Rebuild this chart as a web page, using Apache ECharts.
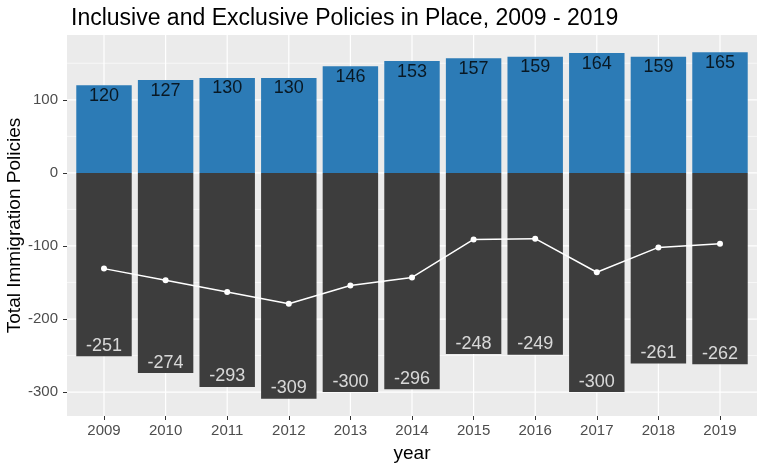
<!DOCTYPE html>
<html>
<head>
<meta charset="utf-8">
<script src="https://cdn.jsdelivr.net/npm/echarts@6/dist/echarts.min.js"></script>
<style>html,body{margin:0;padding:0;background:#fff}#c{width:761px;height:468px}</style>
</head>
<body>
<div id="c"></div>
<script>
const years = ['2009','2010','2011','2012','2013','2014','2015','2016','2017','2018','2019'];
const inclusive = [120,127,130,130,146,153,157,159,164,159,165];
const exclusive = [-251,-274,-293,-309,-300,-296,-248,-249,-300,-261,-262];
const net = [-131,-147,-163,-179,-154,-143,-91,-90,-136,-102,-97];
const majorTicks = [-300,-200,-100,0,100];
const minorTicks = [-250,-150,-50,50,150];
const yMin = -332.7, yMax = 188.7;

const FONT = '"Liberation Sans", Arial, sans-serif';
const chart = echarts.init(document.getElementById('c'), null, {renderer:'canvas'});

// panel extends 0.1 band beyond the category grid on each side (ggplot 0.6 discrete expansion)
const EXT = 0.1;
// gridline data: [xIndex, yValue, lineWidth, kind(0=h,1=v,2=panel)]
const panel = [[0, 0, 0, 2]];
const hGrid = majorTicks.map(v => [0, v, 1.2, 0]).concat(minorTicks.map(v => [0, v, 0.6, 0]));
const vGrid = years.map((y, i) => [i, 0, 1.2, 1]);

function renderGrid(params, api) {
  const cs = params.coordSys;
  const ext = api.size([1, 0])[0] * EXT;
  const lw = api.value(2);
  const kind = api.value(3);
  if (kind === 2) {
    return {type: 'rect', shape: {x: cs.x - ext, y: cs.y, width: cs.width + 2 * ext, height: cs.height},
      style: {fill: '#EBEBEB'}, silent: true};
  }
  if (kind === 0) {
    const y = api.coord([0, api.value(1)])[1];
    return {type: 'line', shape: {x1: cs.x - ext, y1: y, x2: cs.x + cs.width + ext, y2: y},
      style: {stroke: '#FFFFFF', lineWidth: lw}, silent: true};
  }
  const x = api.coord([api.value(0), 0])[0];
  return {type: 'line', shape: {x1: x, y1: cs.y, x2: x, y2: cs.y + cs.height},
    style: {stroke: '#FFFFFF', lineWidth: lw}, silent: true};
}

chart.setOption({
  animation: false,
  textStyle: {fontFamily: FONT},
  title: {
    text: 'Inclusive and Exclusive Policies in Place, 2009 - 2019',
    left: 66, top: 2,
    textStyle: {fontFamily: FONT, fontSize: 23, fontWeight: 'normal', color: '#000'}
  },
  grid: {left: 73.2, top: 35, width: 677.6, height: 381, show: false,
    containLabel: false, outerBoundsMode: 'none'},
  xAxis: {
    type: 'category', data: years, boundaryGap: true,
    name: 'year', nameLocation: 'middle', nameGap: 28, nameMoveOverlap: false,
    nameTextStyle: {fontFamily: FONT, fontSize: 19, color: '#000'},
    axisLine: {show: false, onZero: false},
    axisTick: {show: true, alignWithLabel: true, length: 4, lineStyle: {color: '#333', width: 1}},
    axisLabel: {fontFamily: FONT, fontSize: 15, color: '#4D4D4D', margin: 7},
    splitLine: {show: false}
  },
  yAxis: {
    type: 'value', min: yMin, max: yMax, offset: 6.2,
    name: 'Total Immigration Policies', nameLocation: 'middle', nameGap: 43, nameMoveOverlap: false,
    nameTextStyle: {fontFamily: FONT, fontSize: 19, color: '#000'},
    axisLine: {show: false, onZero: false},
    axisTick: {show: true, length: 4, customValues: majorTicks, lineStyle: {color: '#333', width: 1}},
    axisLabel: {fontFamily: FONT, fontSize: 15, color: '#4D4D4D', margin: 9, customValues: majorTicks},
    splitLine: {show: false}
  },
  series: [
    {
      type: 'custom', name: 'panel', data: panel, renderItem: renderGrid,
      encode: {x: 0, y: 1}, z: 0, silent: true, clip: false
    },
    {
      type: 'custom', name: 'hgrid', data: hGrid, renderItem: renderGrid,
      encode: {x: 0, y: 1}, z: 1, silent: true, clip: false
    },
    {
      type: 'custom', name: 'vgrid', data: vGrid, renderItem: renderGrid,
      encode: {x: 0, y: 1}, z: 1, silent: true, clip: false
    },
    {
      type: 'bar', name: 'inclusive', data: inclusive,
      barGap: '-100%', barCategoryGap: '10%',
      itemStyle: {color: '#2C7BB6'},
      z: 3
    },
    {
      type: 'bar', name: 'exclusive', data: exclusive,
      barGap: '-100%', barCategoryGap: '10%',
      itemStyle: {color: '#3D3D3D'},
      z: 3
    },
    {
      type: 'line', name: 'net', data: net,
      symbol: 'circle', symbolSize: 6, showSymbol: true,
      lineStyle: {color: '#FFFFFF', width: 1.5},
      itemStyle: {color: '#FFFFFF'},
      z: 5
    },
    {
      type: 'scatter', name: 'incLabels', symbolSize: 0,
      data: inclusive.map((v, i) => [i, v]),
      label: {show: true, position: 'inside', offset: [0, 10.5], formatter: p => String(p.value[1]),
        fontFamily: FONT, fontSize: 18, color: '#000'},
      z: 6, silent: true
    },
    {
      type: 'scatter', name: 'excLabels', symbolSize: 0,
      data: exclusive.map((v, i) => [i, v]),
      label: {show: true, position: 'inside', offset: [0, -10.5], formatter: p => String(p.value[1]),
        fontFamily: FONT, fontSize: 18, color: '#FFFFFF'},
      z: 6, silent: true
    }
  ]
});
</script>
</body>
</html>
